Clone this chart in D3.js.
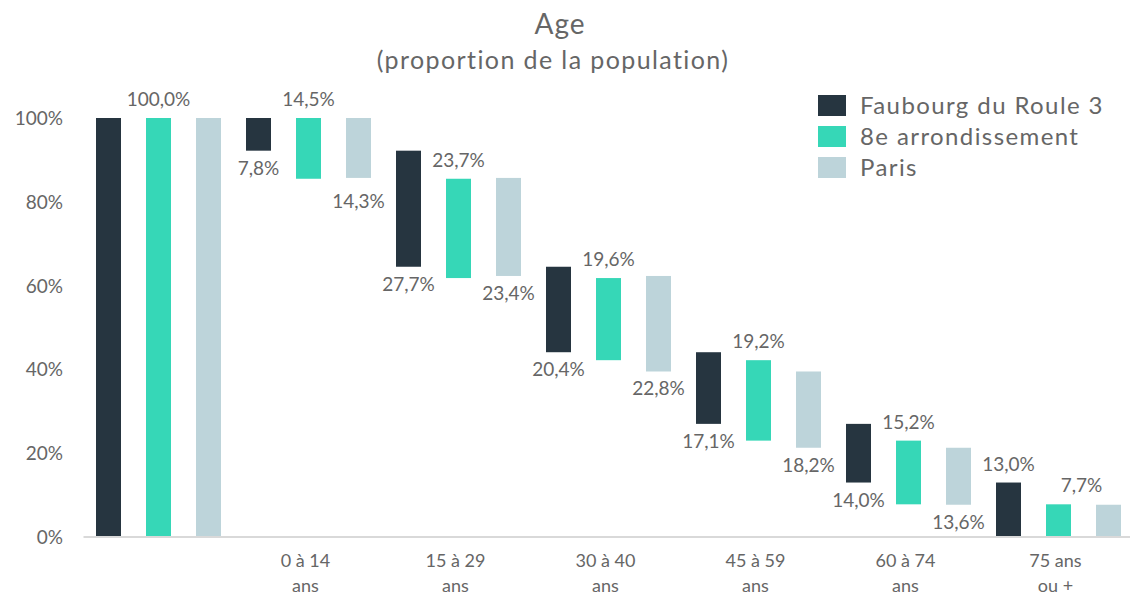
<!DOCTYPE html>
<html>
<head>
<meta charset="utf-8">
<script src="https://cdn.jsdelivr.net/npm/d3@7"></script>
<style>
  body { margin: 0; background: #fff; }
  text { font-family: Lato, "Open Sans", sans-serif; fill: #666; }
</style>
</head>
<body>
<svg id="chart" width="1130" height="597"></svg>
<script>
// data
const categories = ["", "0 à 14|ans", "15 à 29|ans", "30 à 40|ans", "45 à 59|ans", "60 à 74|ans", "75 ans|ou +"];
const seriesNames = ["Faubourg du Roule 3", "8e arrondissement", "Paris"];
const faubourg = [100, 7.8, 27.7, 20.4, 17.1, 14.0, 13.0];
const arrondissement = [100, 14.5, 23.7, 19.6, 19.2, 15.2, 7.7];
const paris = [100, 14.3, 23.4, 22.8, 18.2, 13.6, 7.7];
const yTicks = [0, 20, 40, 60, 80, 100];

// where each value label sits ("up", "down" or none)
const labelPos = [
  [null, "down", "down", "down", "down", "down", "up"],
  ["up", "up", "up", "up", "up", "up", "up"],
  [null, "down", "down", "down", "down", "down", null]
];
const colors = ["#263540", "#36d7b7", "#bdd4da"];

const svg = d3.select("#chart");
const fmt = v => d3.format(".1f")(v).replace(".", ",") + "%";

const x = d3.scaleBand().domain(d3.range(categories.length)).range([83.5, 1133.5]);
const xs = d3.scaleBand().domain([0, 1, 2]).range([0, x.bandwidth()]).paddingInner(0.5).paddingOuter(0.25);
const y = d3.scaleLinear().domain([0, 100]).range([537, 118]);

/* TITLE */
svg.append("text").attr("x", 560).attr("y", 34).attr("text-anchor", "middle")
  .style("font-size", "28px").style("letter-spacing", "1px").text("Age");
svg.append("text").attr("x", 553).attr("y", 69).attr("text-anchor", "middle")
  .style("font-size", "25px").style("letter-spacing", "1.4px").text("(proportion de la population)");

/* Y AXIS */
svg.selectAll(".ytick").data(yTicks).enter().append("text")
  .attr("x", 63).attr("y", d => y(d) + 7)
  .attr("text-anchor", "end").style("font-size", "19px")
  .text(d => d + "%");

/* BARS */
const allSeries = [faubourg, arrondissement, paris];
const bars = [];
allSeries.forEach((vals, s) => {
  let top = 100;
  vals.forEach((v, i) => {
    if (i === 0) { bars.push({ s, i, v, lo: 0, hi: 100 }); return; }
    bars.push({ s, i, v, lo: top - v, hi: top });
    top -= v;
  });
});

svg.selectAll("rect.bar").data(bars).enter().append("rect")
  .attr("class", "bar")
  .attr("x", d => x(d.i) + xs(d.s))
  .attr("width", xs.bandwidth())
  .attr("y", d => y(d.hi))
  .attr("height", d => y(d.lo) - y(d.hi))
  .attr("fill", d => colors[d.s]);

/* AXIS LINE */
svg.append("line").attr("x1", x.range()[0]).attr("x2", 1130)
  .attr("y1", y(0)).attr("y2", y(0))
  .attr("stroke", "#d9d9d9").attr("stroke-width", 2);

/* VALUE LABELS */
const labelled = bars.filter(d => labelPos[d.s][d.i]);
svg.selectAll("text.val").data(labelled).enter().append("text")
  .attr("class", "val")
  .attr("x", d => x(d.i) + xs(d.s) + xs.bandwidth() / 2 + (d.s === 1 && d.i === 6 ? 23 : 0))
  .attr("y", d => labelPos[d.s][d.i] === "up" ? y(d.hi) - 12 : y(d.lo) + 24 + (d.s === 2 && d.i === 1 ? 6 : 0))
  .attr("text-anchor", "middle").style("font-size", "19px")
  .text(d => fmt(d.v));

/* CATEGORY LABELS */
categories.forEach((c, i) => {
  if (!c) return;
  const t = svg.append("text").attr("text-anchor", "middle").style("font-size", "18px");
  c.split("|").forEach((line, k) => {
    t.append("tspan").attr("x", x(i) + x.bandwidth() / 2 - 3).attr("y", 567 + k * 25).text(line);
  });
});

/* LEGEND */
const legend = svg.append("g").attr("transform", "translate(818,95)");
seriesNames.forEach((n, k) => {
  legend.append("rect").attr("x", 0).attr("y", k * 31).attr("width", 28).attr("height", 21).attr("fill", colors[k]);
  legend.append("text").attr("x", 42).attr("y", k * 31 + 19)
    .style("font-size", "24px").style("letter-spacing", "1.4px").text(n);
});
</script>
</body>
</html>
